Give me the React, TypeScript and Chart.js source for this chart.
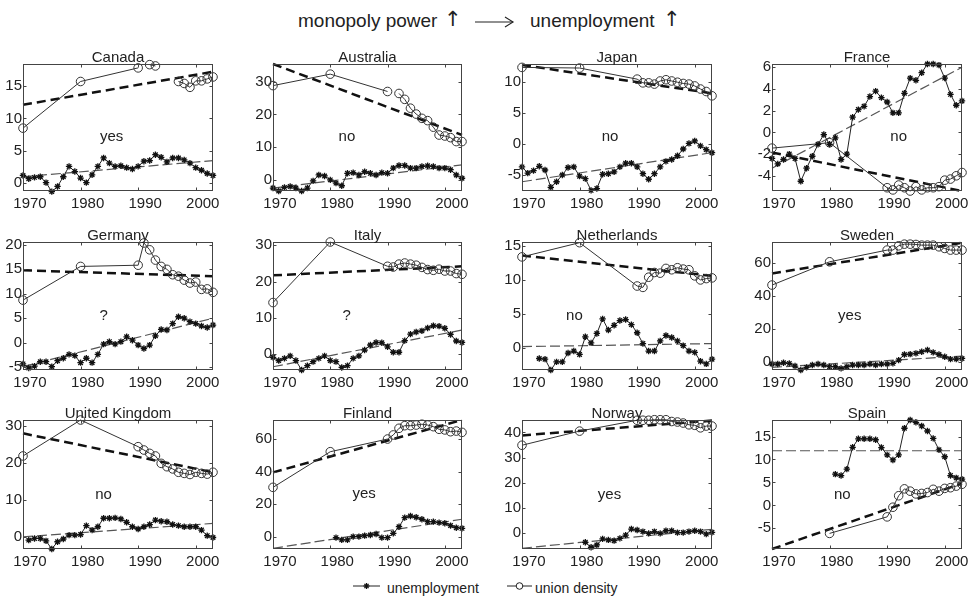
import React, { useEffect, useRef } from 'react';
import { Chart, registerables } from 'chart.js';

Chart.register(...registerables);

const FONT = '"Liberation Sans", Arial, Helvetica, sans-serif';

// ---------- shared x values ----------
const unempYears = [1970, 1971, 1972, 1973, 1974, 1975, 1976, 1977, 1978, 1979, 1980, 1981, 1982, 1983, 1984, 1985, 1986, 1987, 1988, 1989, 1990, 1991, 1992, 1993, 1994, 1995, 1996, 1997, 1998, 1999, 2000, 2001, 2002, 2003];
const unionYears = [1970, 1980, 1990, 1991, 1992, 1993, 1994, 1995, 1996, 1997, 1998, 1999, 2000, 2001, 2002, 2003];
const trendYears = [1970, 2003];
const xTicks = [1970, 1980, 1990, 2000];

// ---------- Canada ----------
const canadaUnemp = [1.2, 0.7, 0.9, 1.0, 0.1, -1.3, -0.5, 1.0, 2.6, 1.8, 0.8, 0.1, 1.3, 2.6, 3.9, 3.1, 2.6, 2.7, 2.4, 2.2, 2.6, 3.4, 3.5, 4.4, 4.0, 3.3, 3.9, 3.9, 3.6, 3.1, 2.4, 2.0, 1.5, 1.2];
const canadaUnion = [8.5, 15.7, 17.8, null, 18.3, 18.1, null, null, null, 15.7, 15.4, 14.8, 15.8, 15.8, 16.1, 16.4];
const canadaUnionTrend = [12.1, 17.2];
const canadaUnempTrend = [1.0, 3.5];
const canadaYTicks = [0, 5, 10, 15];
const canadaYRange = [-1.2, 18.4];

// ---------- Australia ----------
const australiaUnemp = [-2.5, -3.4, -2.3, -2.0, -2.5, -3.4, -2.5, -0.3, 1.5, 1.2, 0.0, -1.0, -1.8, 2.0, 2.2, 1.5, 2.5, 2.0, 1.5, 2.2, 2.0, 3.6, 4.4, 4.4, 3.6, 3.6, 4.1, 4.3, 4.1, 3.6, 3.6, 3.1, 1.5, 0.5];
const australiaUnion = [28.8, 32.3, 27.0, null, 26.4, 24.6, 21.9, 20.1, 18.8, 18.1, 16.1, 13.7, 13.4, 12.9, 11.7, 11.7];
const australiaUnionTrend = [35.4, 13.7];
const australiaUnempTrend = [-2.5, 4.6];
const australiaYTicks = [0, 10, 20, 30];
const australiaYRange = [-3.4, 35.4];

// ---------- Japan ----------
const japanUnemp = [-3.7, -4.7, -4.3, -3.6, -4.2, -7.0, -6.1, -5.0, -3.8, -3.7, -5.2, -5.6, -7.5, -7.2, -4.9, -4.8, -4.5, -3.7, -3.1, -3.1, -3.7, -4.8, -5.7, -4.8, -3.7, -2.8, -2.5, -1.9, -0.8, 0.1, 0.5, -0.3, -0.9, -1.4];
const japanUnion = [12.4, 12.3, 10.5, 9.9, 9.9, 9.7, 10.2, 10.4, 10.2, 10.0, 9.8, 9.7, 9.4, 8.9, 8.5, 7.8];
const japanUnionTrend = [12.8, 8.2];
const japanUnempTrend = [-6.1, -1.4];
const japanYTicks = [-5, 0, 5, 10];
const japanYRange = [-7.6, 12.95];

// ---------- France ----------
const franceUnemp = [-2.4, -2.9, -2.5, -2.0, -2.4, -4.5, -3.3, -2.2, -1.1, -0.2, -1.1, -0.5, -2.5, -2.0, 1.4, 2.1, 2.4, 3.3, 3.8, 3.2, 2.8, 1.8, 1.8, 3.6, 5.0, 4.8, 5.5, 6.3, 6.3, 6.2, 5.0, 3.5, 2.5, 2.9];
const franceUnion = [-1.45, -0.95, -5.1, -5.3, -4.85, -5.1, -5.4, -5.0, -5.3, -5.1, -5.1, -5.0, -4.4, -4.3, -4.0, -3.7];
const franceUnionTrend = [-1.85, -5.4];
const franceUnempTrend = [-3.3, 6.0];
const franceYTicks = [-4, -2, 0, 2, 4, 6];
const franceYRange = [-5.4, 6.3];

// ---------- Germany ----------
const germanyUnemp = [-4.35, -5.2, -4.8, -3.9, -3.9, -4.9, -3.7, -3.2, -2.4, -2.65, -4.1, -3.2, -4.1, -2.4, -0.3, 0.2, -0.3, 0.2, 1.2, 0.5, -0.5, -1.2, -0.5, 1.4, 2.7, 2.6, 3.9, 5.3, 5.0, 4.3, 3.9, 3.4, 3.1, 3.6];
const germanyUnion = [8.7, 15.6, 15.85, 20.4, 19.0, 16.9, 15.6, 15.0, 13.9, 13.6, 12.8, 12.2, 12.4, 10.9, 11.0, 10.3];
const germanyUnionTrend = [14.8, 13.6];
const germanyUnempTrend = [-4.9, 5.0];
const germanyYTicks = [-5, 0, 5, 10, 15, 20];
const germanyYRange = [-5.6, 20.6];

// ---------- Italy ----------
const italyUnemp = [-0.9, -1.8, -1.2, -0.5, -1.8, -4.4, -3.2, -2.1, -1.2, -0.5, -1.8, -2.1, -3.7, -3.2, -1.2, -0.5, 1.1, 2.5, 3.2, 3.1, 2.0, 0.5, 0.5, 3.7, 5.5, 6.1, 6.4, 7.2, 7.8, 7.7, 7.1, 5.4, 3.6, 3.2];
const italyUnion = [14.2, 30.9, 24.2, 24.0, 24.8, 25.1, 24.8, 24.5, 23.9, 23.3, 23.1, 23.4, 22.9, 22.9, 22.2, 22.0];
const italyUnionTrend = [21.7, 24.2];
const italyUnempTrend = [-3.5, 6.6];
const italyYTicks = [0, 10, 20, 30];
const italyYRange = [-4.4, 30.9];

// ---------- Netherlands ----------
const netherlandsUnemp = [null, null, null, -1.6, -1.7, -3.3, -2.1, -2.1, -0.8, -0.5, -1.0, 1.6, 0.7, 2.1, 4.25, 2.6, 3.3, 4.0, 4.15, 3.4, 2.2, 0.6, -0.5, -0.5, 1.0, 1.8, 1.5, 1.0, 0.3, -0.5, -0.7, -2.0, -2.4, -1.7];
const netherlandsUnion = [13.4, 15.5, 9.1, 8.9, 10.4, 11.1, 11.0, 11.7, 11.5, 11.8, 11.6, 11.5, 10.6, 10.0, 10.2, 10.3];
const netherlandsUnionTrend = [13.6, 10.6];
const netherlandsUnempTrend = [0.15, 0.6];
const netherlandsYTicks = [0, 5, 10, 15];
const netherlandsYRange = [-3.3, 15.6];

// ---------- Sweden ----------
const swedenUnemp = [-1.4, -1.4, -0.6, -1.0, -2.6, -5.0, -3.4, -2.0, -1.4, -2.0, -3.0, -3.0, -4.0, -3.0, -2.0, -2.0, -2.0, -1.4, -2.0, -1.4, -1.4, -1.0, 1.0, 4.4, 4.6, 5.1, 6.1, 7.1, 5.7, 4.4, 3.0, 1.6, 1.6, 2.0];
const swedenUnion = [46.5, 60.6, 67.7, 67.7, 70.3, 71.3, 71.3, 71.1, 70.7, 70.7, 70.7, 69.7, 68.7, 67.7, 67.7, 67.7];
const swedenUnionTrend = [53.5, 72.1];
const swedenUnempTrend = [-3.4, 3.4];
const swedenYTicks = [0, 20, 40, 60];
const swedenYRange = [-5.0, 72.6];

// ---------- United Kingdom ----------
const ukUnemp = [null, -0.9, -0.45, -0.45, -1.1, -3.3, -1.35, -0.6, 0.45, 0.45, 0.6, 3.0, 1.8, 2.7, 5.0, 5.0, 5.1, 4.8, 3.9, 2.7, 2.1, 2.7, 3.3, 4.5, 4.2, 4.05, 3.3, 3.0, 2.7, 2.7, 2.7, 1.8, 0.3, -0.2];
const ukUnion = [21.8, 31.5, 24.3, 23.4, 22.5, 21.8, 19.8, 18.9, 18.3, 17.4, 17.1, 16.8, 17.4, 17.1, 16.9, 17.4];
const ukUnionTrend = [27.9, 17.4];
const ukUnempTrend = [0.0, 3.6];
const ukYTicks = [0, 10, 20, 30];
const ukYRange = [-3.3, 31.5];

// ---------- Finland ----------
const finlandUnemp = [null, null, null, null, null, null, null, null, null, null, null, -0.6, -2.0, -2.0, 0.0, 0.0, 0.6, 1.0, 1.6, -0.6, -0.6, 2.0, 6.1, 11.7, 12.7, 11.9, 10.7, 9.2, 9.2, 8.6, 8.2, 6.8, 5.5, 5.1];
const finlandUnion = [30.3, 52.2, 60.0, 62.5, 66.6, 68.2, 68.2, 68.6, 69.1, 68.6, 67.6, 66.0, 65.6, 64.5, 64.9, 64.1];
const finlandUnionTrend = [39.5, 71.7];
const finlandUnempTrend = [-7.2, 10.7];
const finlandYTicks = [0, 20, 40, 60];
const finlandYRange = [-7.6, 71.7];

// ---------- Norway ----------
const norwayUnemp = [null, null, null, null, null, null, null, null, null, null, null, -3.55, -5.5, -4.6, -2.2, -2.6, -2.9, -2.0, -0.7, 1.7, 1.3, 0.7, 0.0, 0.7, 0.0, 1.05, 1.05, 0.3, 0.3, 0.7, 1.05, 0.7, -0.3, 0.4];
const norwayUnion = [34.9, 40.5, 44.8, 44.8, 44.8, 45.0, 45.0, 45.0, 44.3, 44.1, 43.7, 43.0, 42.8, 41.8, 42.5, 42.5];
const norwayUnionTrend = [38.8, 44.7];
const norwayUnempTrend = [-5.9, 1.6];
const norwayYTicks = [0, 10, 20, 30, 40];
const norwayYRange = [-6.2, 44.9];

// ---------- Spain ----------
const spainUnemp = [null, null, null, null, null, null, null, null, null, null, null, 6.8, 6.5, 7.9, 12.65, 14.5, 14.5, 14.5, 14.3, 12.6, 11.0, 9.9, 11.0, 16.8, 18.6, 18.1, 17.3, 16.2, 14.6, 12.1, 10.6, 6.5, 6.0, 5.7];
const spainUnion = [null, -6.1, -2.5, -0.4, 2.1, 3.6, 3.1, 2.5, 2.6, 2.8, 3.5, 3.1, 3.7, 3.85, 4.2, 4.6];
const spainUnionTrend = [-9.5, 4.8];
const spainUnempTrend = [11.9, 11.9];
const spainYTicks = [-5, 0, 5, 10, 15];
const spainYRange = [-9.5, 18.6];

// ---------- layout ----------
const colLeft = [23, 273, 522, 772];
const colWidth = [190, 189, 190, 190];
const rowTop = [64, 242, 420];
const rowHeight = [127, 128, 129];
const Y_W = 30;
const X_H = 28;
const PAD_T = 24;
const PAD_R = 14;

type PanelCfg = {
  title: string; note: string; noteAt: number[];
  unemp: (number | null)[]; union: (number | null)[];
  unionTrend: number[]; unempTrend: number[];
  yTicks: number[]; yRange: number[]; row: number; col: number;
};

const panels: PanelCfg[] = [
  { title: 'Canada', note: 'yes', noteAt: [1985.4, 7.2], unemp: canadaUnemp, union: canadaUnion, unionTrend: canadaUnionTrend, unempTrend: canadaUnempTrend, yTicks: canadaYTicks, yRange: canadaYRange, row: 0, col: 0 },
  { title: 'Australia', note: 'no', noteAt: [1982.9, 13.2], unemp: australiaUnemp, union: australiaUnion, unionTrend: australiaUnionTrend, unempTrend: australiaUnempTrend, yTicks: australiaYTicks, yRange: australiaYRange, row: 0, col: 1 },
  { title: 'Japan', note: 'no', noteAt: [1985.3, 1.2], unemp: japanUnemp, union: japanUnion, unionTrend: japanUnionTrend, unempTrend: japanUnempTrend, yTicks: japanYTicks, yRange: japanYRange, row: 0, col: 2 },
  { title: 'France', note: 'no', noteAt: [1992.0, -0.45], unemp: franceUnemp, union: franceUnion, unionTrend: franceUnionTrend, unempTrend: franceUnempTrend, yTicks: franceYTicks, yRange: franceYRange, row: 0, col: 3 },
  { title: 'Germany', note: '?', noteAt: [1984.0, 5.4], unemp: germanyUnemp, union: germanyUnion, unionTrend: germanyUnionTrend, unempTrend: germanyUnempTrend, yTicks: germanyYTicks, yRange: germanyYRange, row: 1, col: 0 },
  { title: 'Italy', note: '?', noteAt: [1982.85, 10.5], unemp: italyUnemp, union: italyUnion, unionTrend: italyUnionTrend, unempTrend: italyUnempTrend, yTicks: italyYTicks, yRange: italyYRange, row: 1, col: 1 },
  { title: 'Netherlands', note: 'no', noteAt: [1979.1, 4.7], unemp: netherlandsUnemp, union: netherlandsUnion, unionTrend: netherlandsUnionTrend, unempTrend: netherlandsUnempTrend, yTicks: netherlandsYTicks, yRange: netherlandsYRange, row: 1, col: 2 },
  { title: 'Sweden', note: 'yes', noteAt: [1983.5, 27.7], unemp: swedenUnemp, union: swedenUnion, unionTrend: swedenUnionTrend, unempTrend: swedenUnempTrend, yTicks: swedenYTicks, yRange: swedenYRange, row: 1, col: 3 },
  { title: 'United Kingdom', note: 'no', noteAt: [1984.0, 11.4], unemp: ukUnemp, union: ukUnion, unionTrend: ukUnionTrend, unempTrend: ukUnempTrend, yTicks: ukYTicks, yRange: ukYRange, row: 2, col: 0 },
  { title: 'Finland', note: 'yes', noteAt: [1985.9, 26.0], unemp: finlandUnemp, union: finlandUnion, unionTrend: finlandUnionTrend, unempTrend: finlandUnempTrend, yTicks: finlandYTicks, yRange: finlandYRange, row: 2, col: 1 },
  { title: 'Norway', note: 'yes', noteAt: [1985.2, 15.4], unemp: norwayUnemp, union: norwayUnion, unionTrend: norwayUnionTrend, unempTrend: norwayUnempTrend, yTicks: norwayYTicks, yRange: norwayYRange, row: 2, col: 2 },
  { title: 'Spain', note: 'no', noteAt: [1982.2, 2.4], unemp: spainUnemp, union: spainUnion, unionTrend: spainUnionTrend, unempTrend: spainUnempTrend, yTicks: spainYTicks, yRange: spainYRange, row: 2, col: 3 },
];

const decoPlugin = {
  id: 'deco',
  afterDatasetsDraw(chart: any, _args: any, opts: any) {
    const { ctx, chartArea: a, scales } = chart;
    ctx.save();
    const L = Math.round(a.left) + 0.5, T = Math.round(a.top) + 0.5;
    const R = Math.round(a.right) - 0.5, B = Math.round(a.bottom) - 0.5;
    ctx.strokeStyle = '#444';
    ctx.lineWidth = 1;
    ctx.setLineDash([]);
    ctx.strokeRect(L, T, R - L, B - T);
    const tl = 3;
    ctx.beginPath();
    for (const t of scales.x.ticks) {
      const px = Math.round(scales.x.getPixelForValue(t.value)) + 0.5;
      ctx.moveTo(px, B); ctx.lineTo(px, B - tl);
      ctx.moveTo(px, T); ctx.lineTo(px, T + tl);
    }
    for (const t of scales.y.ticks) {
      const py = Math.round(scales.y.getPixelForValue(t.value)) + 0.5;
      ctx.moveTo(L, py); ctx.lineTo(L + tl, py);
      ctx.moveTo(R, py); ctx.lineTo(R - tl, py);
    }
    ctx.stroke();
    ctx.fillStyle = '#222';
    ctx.font = `15px ${FONT}`;
    ctx.textAlign = 'center';
    ctx.textBaseline = 'alphabetic';
    ctx.fillText(opts.title, (a.left + a.right) / 2, a.top - 2);
    ctx.textBaseline = 'middle';
    ctx.fillText(opts.note, scales.x.getPixelForValue(opts.noteAt[0]), scales.y.getPixelForValue(opts.noteAt[1]));
    ctx.restore();
  },
};

function Panel({ p }: { p: PanelCfg }) {
  const ref = useRef<HTMLCanvasElement>(null);
  const w = Y_W + colWidth[p.col] + PAD_R;
  const h = PAD_T + rowHeight[p.row] + X_H;
  const left = colLeft[p.col] - Y_W;
  const top = rowTop[p.row] - PAD_T;

  useEffect(() => {
    const tickFont = { family: FONT, size: 15 };
    const chart = new Chart(ref.current as HTMLCanvasElement, {
      type: 'line',
      data: {
        datasets: [
          {
            label: 'unemployment',
            data: unempYears.map((x, i) => ({ x, y: p.unemp[i] })),
            borderColor: '#222', borderWidth: 1,
            pointStyle: 'star', pointRadius: 3.2, pointBorderWidth: 1.3,
            pointBorderColor: '#111', pointBackgroundColor: '#111',
            clip: false,
          } as any,
          {
            label: 'union density',
            data: unionYears.map((x, i) => ({ x, y: p.union[i] })),
            borderColor: '#333', borderWidth: 1,
            pointStyle: 'circle', pointRadius: 4.3, pointBorderWidth: 1,
            pointBorderColor: '#333', pointBackgroundColor: 'rgba(0,0,0,0)',
            clip: false,
          } as any,
          {
            label: 'union trend',
            data: trendYears.map((x, i) => ({ x, y: p.unionTrend[i] })),
            borderColor: '#111', borderWidth: 2.5, borderDash: [9, 5],
            pointRadius: 0, clip: false,
          } as any,
          {
            label: 'unemployment trend',
            data: trendYears.map((x, i) => ({ x, y: p.unempTrend[i] })),
            borderColor: '#555', borderWidth: 1.2, borderDash: [10, 4],
            pointRadius: 0, clip: false,
          } as any,
        ],
      },
      options: {
        responsive: false,
        animation: false,
        events: [],
        layout: { padding: { top: PAD_T, right: PAD_R, left: 0, bottom: 0 } },
        plugins: {
          legend: { display: false },
          tooltip: { enabled: false },
          deco: { title: p.title, note: p.note, noteAt: p.noteAt },
        } as any,
        scales: {
          x: {
            type: 'linear', min: 1970, max: 2003,
            grid: { display: false, drawTicks: false },
            border: { display: false },
            ticks: { font: tickFont, color: '#222', padding: 4, labelOffset: 7, maxRotation: 0, autoSkip: false, callback: (v: any) => String(v) },
            afterBuildTicks: (s: any) => { s.ticks = xTicks.map((v) => ({ value: v })); },
            afterFit: (s: any) => { s.height = X_H; },
          },
          y: {
            type: 'linear', min: p.yRange[0], max: p.yRange[1],
            grid: { display: false, drawTicks: false },
            border: { display: false },
            ticks: { font: tickFont, color: '#222', padding: 1, autoSkip: false, callback: (v: any) => String(v) },
            afterBuildTicks: (s: any) => { s.ticks = p.yTicks.map((v) => ({ value: v })); },
            afterFit: (s: any) => { s.width = Y_W; },
          },
        } as any,
      },
      plugins: [decoPlugin],
    });
    return () => chart.destroy();
  }, []);

  return <canvas ref={ref} width={w} height={h} style={{ position: 'absolute', left, top, width: w, height: h }} />;
}

const txt = (size: number): React.CSSProperties => ({
  position: 'absolute', font: `${size}px ${FONT}`, color: '#222', whiteSpace: 'nowrap',
});

const arrowStyle: React.CSSProperties = {
  position: 'absolute', font: '21px "DejaVu Sans", sans-serif', color: '#222', whiteSpace: 'nowrap', lineHeight: '24px',
};

export default function App() {
  return (
    <div style={{ position: 'absolute', left: 0, top: 0, width: 972, height: 601, background: '#fff', overflow: 'hidden' }}>
      <div style={{ ...txt(19), left: 298, top: 10, lineHeight: '22px' }}>monopoly power</div>
      <div style={{ ...arrowStyle, left: 444, top: 7 }}>↑</div>
      <svg style={{ position: 'absolute', left: 470, top: 12 }} width={48} height={20}>
        <line x1={5} y1={10} x2={43} y2={10} stroke="#222" strokeWidth={1.2} />
        <polyline points="35,5 43,10 35,15" fill="none" stroke="#222" strokeWidth={1.2} />
      </svg>
      <div style={{ ...txt(19), left: 530, top: 10, lineHeight: '22px' }}>unemployment</div>
      <div style={{ ...arrowStyle, left: 663, top: 7 }}>↑</div>

      {panels.map((p) => <Panel key={p.title} p={p} />)}

      <svg style={{ position: 'absolute', left: 350, top: 578 }} width={34} height={16}>
        <line x1={3} y1={8} x2={30} y2={8} stroke="#222" strokeWidth={1} />
        <g stroke="#111" strokeWidth={1.3}>
          <line x1={13.5} y1={8} x2={19.5} y2={8} />
          <line x1={16.5} y1={5} x2={16.5} y2={11} />
          <line x1={14.4} y1={5.9} x2={18.6} y2={10.1} />
          <line x1={14.4} y1={10.1} x2={18.6} y2={5.9} />
        </g>
      </svg>
      <div style={{ ...txt(14), left: 387, top: 580, lineHeight: '16px' }}>unemployment</div>
      <svg style={{ position: 'absolute', left: 504, top: 578 }} width={32} height={16}>
        <line x1={3} y1={8} x2={28} y2={8} stroke="#222" strokeWidth={1} />
        <circle cx={15.5} cy={8} r={3.3} fill="#fff" stroke="#222" strokeWidth={1} />
      </svg>
      <div style={{ ...txt(14), left: 535, top: 580, lineHeight: '16px' }}>union density</div>
    </div>
  );
}
